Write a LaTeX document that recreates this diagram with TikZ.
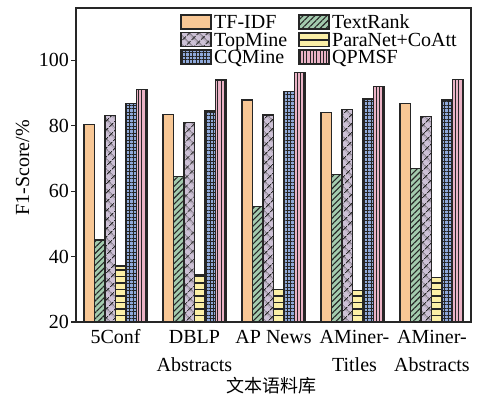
\documentclass[tikz,border=0pt]{standalone}
\usepackage{fontspec}
\setmainfont{Liberation Serif}
\newfontfamily\cjkfont{Noto Sans CJK SC}
\usetikzlibrary{patterns.meta}

\definecolor{cTfidf}{HTML}{F8C795}
\definecolor{cTextrank}{HTML}{A3CBAE}
\definecolor{cTopmine}{HTML}{CDC1D6}
\definecolor{cParanet}{HTML}{FBEFA6}
\definecolor{cCqmine}{HTML}{8FA9DA}
\definecolor{cQpmsf}{HTML}{EBB3C6}
\definecolor{ink}{HTML}{262626}

\tikzset{
  bar/.style={draw=ink, line width=1.2pt},
  tfidf/.style={bar, fill=cTfidf},
  textrank/.style={bar, preaction={fill=cTextrank}, pattern color=ink,
    pattern={Lines[angle=45,distance=4.2pt,line width=1.1pt]}},
  topmine/.style={bar, preaction={fill=cTopmine}, pattern color=ink,
    pattern={Hatch[angle=45,distance=6.5pt,line width=1.1pt]}},
  % horizontal bands drawn inside the box, starting from its bottom edge
  paranet/.style={bar, fill=cParanet,
    path picture={
      \foreach \k in {1,...,30}{
        \draw[ink, line width=1.2pt]
          ([yshift=\k*6.5pt]path picture bounding box.south west)
          -- ([yshift=\k*6.5pt]path picture bounding box.south east);
      }}},
  cqmine/.style={bar, preaction={fill=cCqmine}, pattern color=ink,
    pattern={Hatch[angle=0,distance=3.5pt,line width=1pt]}},
  qpmsf/.style={bar, preaction={fill=cQpmsf}, pattern color=ink,
    pattern={Lines[angle=90,distance=3.3pt,line width=0.9pt]}},
  ticklabel/.style={anchor=east, inner sep=0pt},
  catlabel/.style={anchor=base, inner sep=0pt},
  legtext/.style={anchor=base west, inner sep=0pt},
}

\begin{document}
\begin{tikzpicture}[x=1pt, y=1pt, font=\fontsize{20}{22}\selectfont]
\useasboundingbox (0,0) rectangle (480,396);

% bars: value v sits at height 74 + (v-20)*3.27
\foreach \g/\a/\b/\c/\d/\e/\f in {
    0/80.3/45.1/83.1/37.1/86.8/91.0,
    1/83.5/64.4/81.1/34.4/84.5/94.0,
    2/87.9/55.2/83.3/30.0/90.4/96.2,
    3/84.1/65.0/85.1/29.6/88.2/92.0,
    4/86.9/67.0/82.8/33.5/87.9/94.2}{
  \pgfmathsetmacro\gx{84+79*\g}
  \draw[tfidf]    (\gx,74) rectangle ++(10.5,{(\a-20)*3.27});
  \draw[textrank] ({\gx+10.5},74) rectangle ++(10.5,{(\b-20)*3.27});
  \draw[topmine]  ({\gx+21},74) rectangle ++(10.5,{(\c-20)*3.27});
  \draw[paranet]  ({\gx+31.5},74) rectangle ++(10.5,{(\d-20)*3.27});
  \draw[cqmine]   ({\gx+42},74) rectangle ++(10.5,{(\e-20)*3.27});
  \draw[qpmsf]    ({\gx+52.5},74) rectangle ++(10.5,{(\f-20)*3.27});
}

% frame
\draw[ink, line width=1.2pt] (76,74) rectangle (471,388);

% y axis ticks and labels
\foreach \v in {20,40,60,80,100}{
  \coordinate (t\v) at (76,{74+(\v-20)*3.27});
  \draw[ink, line width=1.1pt] (t\v) -- ++(-5,0);
  \node[ticklabel] (l\v) at ([xshift=-7pt]t\v) {\v};
}
\node[anchor=base, rotate=90, inner sep=0pt] (ylab) at (29,228) {F1-Score/\%};

% category labels
\node[catlabel] (c1) at (115.5,52) {5Conf};
\node[catlabel] (c2a) at (194.5,52) {DBLP};
\node[catlabel] (c2b) at (194.5,24) {Abstracts};
\node[catlabel] (c3) at (273.5,52) {AP News};
\node[catlabel] (c4a) at (354.5,52) {AMiner-};
\node[catlabel] (c4b) at (354.5,24) {Titles};
\node[catlabel] (c5a) at (432,52) {AMiner-};
\node[catlabel] (c5b) at (432,24) {Abstracts};
\node[inner sep=0pt] (xlab) at (271,10) {\cjkfont\fontsize{18}{20}\selectfont 文本语料库};

% legend
\draw[tfidf]    (181,367) rectangle ++(30,14);
\node[legtext] (k1) at (214,367) {TF-IDF};
\draw[topmine]  (181,349.5) rectangle ++(30,14);
\node[legtext] (k2) at (214,349.5) {TopMine};
\draw[cqmine]   (181,332) rectangle ++(30,14);
\node[legtext] (k3) at (214,332) {CQMine};
\draw[textrank] (299,367) rectangle ++(30,14);
\node[legtext] (k4) at (332,367) {TextRank};
\draw[paranet]  (299,349.5) rectangle ++(30,14);
\node[legtext] (k5) at (332,349.5) {ParaNet+CoAtt};
\draw[qpmsf]    (299,332) rectangle ++(30,14);
\node[legtext] (k6) at (332,332) {QPMSF};
\end{tikzpicture}
\end{document}
